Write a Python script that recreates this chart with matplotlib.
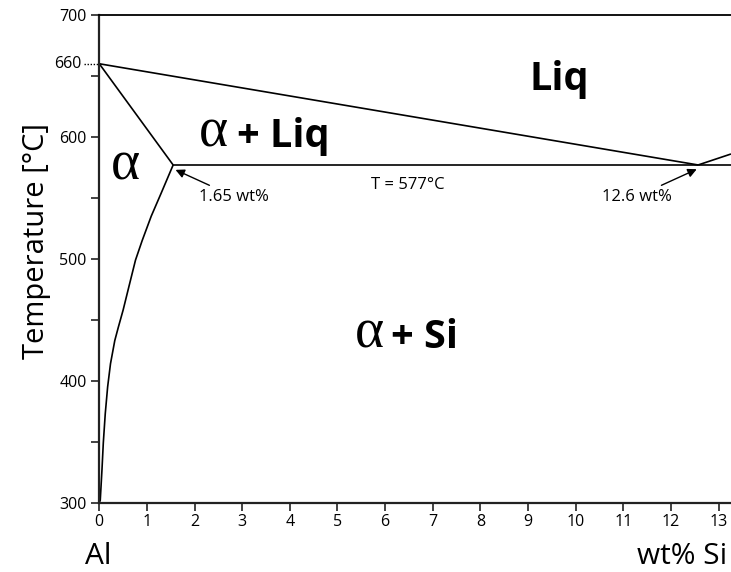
import matplotlib
matplotlib.use("Agg")
import matplotlib.pyplot as plt

# ---- data ----
liquidus_x = [0.0, 12.57]
liquidus_T = [660, 577]
liquidus_si_x = [12.57, 13.26]
liquidus_si_T = [577, 586]
solidus_x = [0.0, 1.55]
solidus_T = [660, 577]
eutectic_x = [1.55, 13.26]
eutectic_T = [577, 577]
solvus_x = [1.55, 1.30, 1.09, 0.90, 0.76, 0.62, 0.50, 0.40, 0.325, 0.235, 0.175, 0.125, 0.084, 0.056, 0.02, 0.0]
solvus_T = [577, 554, 535, 515, 499, 477, 458, 444, 433, 414, 395, 373, 349, 327, 302, 300]

x_ticks = list(range(0, 14))
y_major = [300, 400, 500, 600, 700]
y_minor = [350, 450, 550, 650]

FONT = ["Open Sans", "DejaVu Sans"]
SERIF = ["Liberation Serif", "DejaVu Serif"]
plt.rcParams['font.family'] = FONT

fig = plt.figure(figsize=(7.31, 5.72), dpi=100)
ax = fig.add_axes([99.3 / 731, 1 - 502.7 / 572, 1 - 99.3 / 731, (502.7 - 15) / 572])

lw = 1.2
for xs, ts in [(liquidus_x, liquidus_T), (liquidus_si_x, liquidus_si_T),
               (solidus_x, solidus_T), (eutectic_x, eutectic_T), (solvus_x, solvus_T)]:
    ax.plot(xs, ts, color="black", lw=lw, solid_capstyle="butt", solid_joinstyle="round")

ax.set_xlim(0, 13.26)
ax.set_ylim(300, 700)
ax.spines['right'].set_visible(False)
for s in ['left', 'bottom']:
    ax.spines[s].set_linewidth(1.6)
ax.spines['top'].set_linewidth(1.3)
ax.spines['left'].set_color("#222222")
ax.spines['bottom'].set_color("#222222")

ax.set_xticks(x_ticks)
ax.set_xticklabels([str(t) for t in x_ticks], fontsize=11.5)
ax.set_yticks(y_major)
ax.set_yticklabels([str(t) for t in y_major], fontsize=11.5)
ax.set_yticks(y_minor, minor=True)
ax.tick_params(axis='both', which='both', direction='out', length=6, width=1.2, color="#222222")
ax.tick_params(axis='x', pad=2)
ax.tick_params(axis='y', pad=3)

# 660 melting point tick
ax.plot([-0.32, 0], [660, 660], color="black", lw=1.0, ls=(0, (1, 1.2)), clip_on=False)
ax.text(-0.37, 660, "660", ha="right", va="center", fontsize=11.5)

ax.set_ylabel("Temperature [°C]", fontsize=21, ha="center", va="center")
ax.yaxis.set_label_coords(-0.1, 0.536)

# region labels
ax.text(9.03, 638.5, "Liq", fontsize=28.5, fontweight="bold", ha="left", va="baseline")
ax.text(2.10, 592, "α", fontsize=40, family=SERIF, ha="left", va="baseline")
ax.text(2.88, 592, "+ Liq", fontsize=28.5, fontweight="bold", ha="left", va="baseline")
ax.text(0.25, 565, "α", fontsize=40, family=SERIF, ha="left", va="baseline")
ax.text(5.36, 427, "α", fontsize=40, family=SERIF, ha="left", va="baseline")
ax.text(6.13, 427, "+ Si", fontsize=28.5, fontweight="bold", ha="left", va="baseline")

# annotations
ax.annotate("1.65 wt%", xy=(1.60, 573), xytext=(2.10, 551), fontsize=12,
            ha="left", va="center",
            arrowprops=dict(arrowstyle="-|>", color="black", lw=1.0,
                            mutation_scale=13, shrinkA=1, shrinkB=0))
ax.annotate("12.6 wt%", xy=(12.54, 573.5), xytext=(12.01, 551), fontsize=12,
            ha="right", va="center",
            arrowprops=dict(arrowstyle="-|>", color="black", lw=1.0,
                            mutation_scale=13, shrinkA=1, shrinkB=0))
ax.text(6.47, 560.5, "T = 577°C", fontsize=12, ha="center", va="center")

fig.text(85 / 731, 1 - 564 / 572, "Al", fontsize=21.5, ha="left", va="baseline")
fig.text(727 / 731, 1 - 564 / 572, "wt% Si", fontsize=21.5, ha="right", va="baseline")

fig.savefig("out.png", dpi=100)
